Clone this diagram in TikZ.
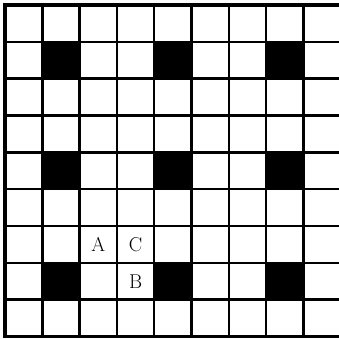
\documentclass[tikz,border=0pt]{standalone}
\begin{document}
\begin{tikzpicture}[x=1pt,y=-1pt,
  gridline/.style={line width=2.4pt},
  borderline/.style={line width=3.8pt},
  blackcell/.style={fill=black},
  letter/.style={font=\fontsize{20}{24}\selectfont, inner sep=0pt}]
\useasboundingbox (0,0) rectangle (339,339);
\clip (0,0) rectangle (339,339);
\def\cw{37.3}
\def\ch{36.83}
% black cells
\foreach \c in {1,4,7}{
  \foreach \r in {1,4,7}{
    \fill[blackcell] ({5+\c*\cw},{5+\r*\ch}) rectangle ({5+(\c+1)*\cw},{5+(\r+1)*\ch});
  }
}
% grid lines
\foreach \i in {1,...,8}{
  \draw[gridline] ({5+\i*\cw},5) -- ({5+\i*\cw},{5+9*\ch});
  \draw[gridline] (5,{5+\i*\ch}) -- ({5+9*\cw},{5+\i*\ch});
}
% border (right edge lies outside the picture)
\draw[borderline] ({5+9*\cw+10},5) -- (5,5) -- (5,{5+9*\ch}) -- ({5+9*\cw+10},{5+9*\ch});
% letters
\node[letter] (A) at ({5+2.5*\cw},{5+6.5*\ch}) {A};
\node[letter] (C) at ({5+3.5*\cw},{5+6.5*\ch}) {C};
\node[letter] (B) at ({5+3.5*\cw},{5+7.5*\ch}) {B};
\end{tikzpicture}
\end{document}
